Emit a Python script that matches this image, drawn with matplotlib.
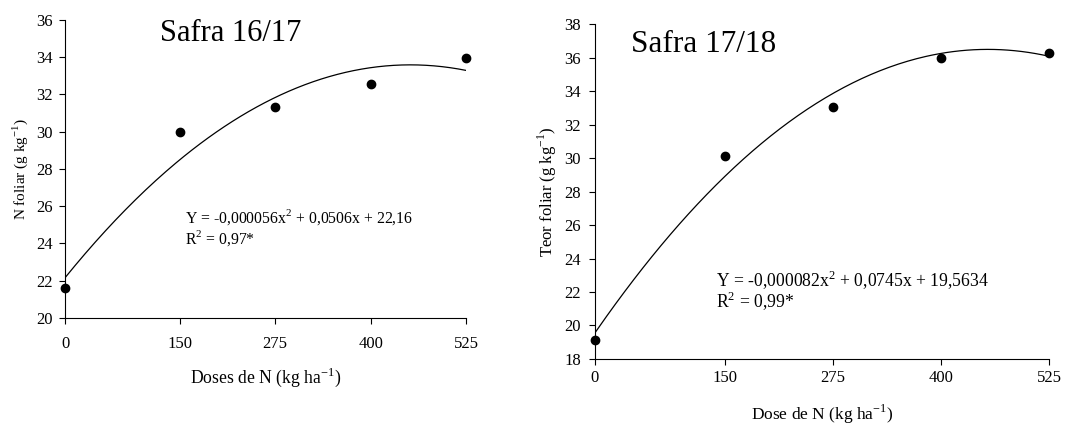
import numpy as np
import matplotlib.pyplot as plt

plt.rcParams['font.family'] = ['Liberation Serif', 'DejaVu Serif']
plt.rcParams['mathtext.fontset'] = 'custom'
plt.rcParams['mathtext.rm'] = 'Liberation Serif'

doses = [0, 150, 275, 400, 525]
n_1617 = [21.6, 30.0, 31.35, 32.55, 33.95]
n_1718 = [19.15, 30.1, 33.05, 35.95, 36.25]
coef_1617 = [-0.000056, 0.0506, 22.16]
coef_1718 = [-0.000082, 0.0745, 19.5634]

fig = plt.figure(figsize=(10.73, 4.25), dpi=100)

# ---- Safra 16/17
ax1 = fig.add_axes([0.0606, 0.2518, 0.3740, 0.7012])
xx = np.linspace(0, 525, 200)
ax1.plot(xx, np.polyval(coef_1617, xx), color='black', lw=0.9)
ax1.plot(doses, n_1617, 'o', color='black', ms=6, clip_on=False)
ax1.set_xlim(0, 525)
ax1.set_ylim(20, 36)
ax1.set_xticks(doses)
ax1.set_yticks(range(20, 37, 2))
ax1.spines['top'].set_visible(False)
ax1.spines['right'].set_visible(False)
ax1.tick_params(labelsize=12, length=4, width=0.8, pad=9)
ax1.tick_params(axis='y', pad=5)
ax1.set_ylabel('N foliar (g kg$^{-1}$)', fontsize=11, labelpad=4)
ax1.set_xlabel('Doses de N (kg ha$^{-1}$)', fontsize=12.7, labelpad=10)
ax1.text(0.237, 0.93, 'Safra 16/17', transform=ax1.transAxes, fontsize=22)
ax1.text(0.298, 0.339, 'Y = -0,000056x$^2$ + 0,0506x + 22,16', transform=ax1.transAxes,
         fontsize=11.3, va='center')
ax1.text(0.298, 0.268, 'R$^2$ = 0,97*', transform=ax1.transAxes, fontsize=11.3, va='center')

# ---- Safra 17/18
ax2 = fig.add_axes([0.5545, 0.1553, 0.4231, 0.7882])
ax2.plot(xx, np.polyval(coef_1718, xx), color='black', lw=0.9)
ax2.plot(doses, n_1718, 'o', color='black', ms=6, clip_on=False)
ax2.set_xlim(0, 525)
ax2.set_ylim(18, 38)
ax2.set_xticks(doses)
ax2.set_yticks(range(18, 39, 2))
ax2.spines['top'].set_visible(False)
ax2.spines['right'].set_visible(False)
ax2.tick_params(labelsize=12, length=4, width=0.8, pad=4)
ax2.tick_params(axis='y', pad=6)
ax2.set_ylabel('Teor foliar (g kg$^{-1}$)', fontsize=12, labelpad=4)
ax2.set_xlabel('Dose de N (kg ha$^{-1}$)', fontsize=12.5, labelpad=12)
ax2.text(0.08, 0.915, 'Safra 17/18', transform=ax2.transAxes, fontsize=22.5)
ax2.text(0.267, 0.236, 'Y = -0,000082x$^2$ + 0,0745x + 19,5634', transform=ax2.transAxes,
         fontsize=12.7, va='center')
ax2.text(0.267, 0.174, 'R$^2$ = 0,99*', transform=ax2.transAxes, fontsize=12.7, va='center')

fig.savefig('out.png', dpi=100)
